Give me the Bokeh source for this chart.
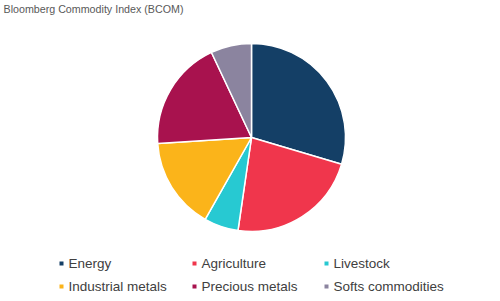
import numpy as np
from bokeh.plotting import figure
from bokeh.models import ColumnDataSource
from bokeh.core.properties import value
from bokeh.embed import file_html
from bokeh.resources import INLINE

# Data
categories = ["Energy", "Agriculture", "Livestock", "Industrial metals", "Precious metals", "Softs commodities"]
weights = [29.6, 22.7, 5.9, 15.8, 19.0, 7.0]
colors = ["#143f66", "#f0364c", "#27c9d2", "#fbb41a", "#a8124e", "#8b849f"]
title_text = "Bloomberg Commodity Index (BCOM)"

W, H = 500, 301
p = figure(width=W, height=H, x_range=(0, W), y_range=(0, H),
           output_backend="svg", toolbar_location=None, min_border=0,
           outline_line_color=None, background_fill_color="white", border_fill_color="white")
p.axis.visible = False
p.grid.visible = False

# Pie
w = np.array(weights, dtype=float)
frac = w / w.sum()
cum = np.concatenate([[0], np.cumsum(frac)])
start = np.pi / 2 - cum[:-1] * 2 * np.pi
end = np.pi / 2 - cum[1:] * 2 * np.pi
src = ColumnDataSource(dict(start=start, end=end, color=colors, cat=categories))
p.wedge(x=251, y=H - 137, radius=94, radius_units="screen",
        start_angle="start", end_angle="end", direction="clock",
        fill_color="color", line_color="white", line_width=1.5, source=src)

# Title
p.text(x=[3], y=[H - 8], text=[title_text], text_font=value("Liberation Sans"),
       text_font_size="10.7px", text_color="#595959", text_baseline="middle", text_align="left")

# Legend (2 rows x 3 columns)
col_x = [61, 194, 326]
row_y = [H - 263, H - 286]
mx, my, tx = [], [], []
for i in range(len(categories)):
    r, c = divmod(i, 3)
    mx.append(col_x[c])
    my.append(row_y[r])
    tx.append(col_x[c] + 7)
lsrc = ColumnDataSource(dict(mx=mx, my=my, tx=tx, cat=categories, color=colors))
p.scatter(x="mx", y="my", marker="square", size=4, fill_color="color", line_color=None, source=lsrc)
p.text(x="tx", y="my", text="cat", text_font=value("Liberation Sans"), text_font_size="13.5px",
       text_color="#404040", text_baseline="middle", text_align="left", source=lsrc)

open("out.html", "w").write(file_html(p, INLINE))
